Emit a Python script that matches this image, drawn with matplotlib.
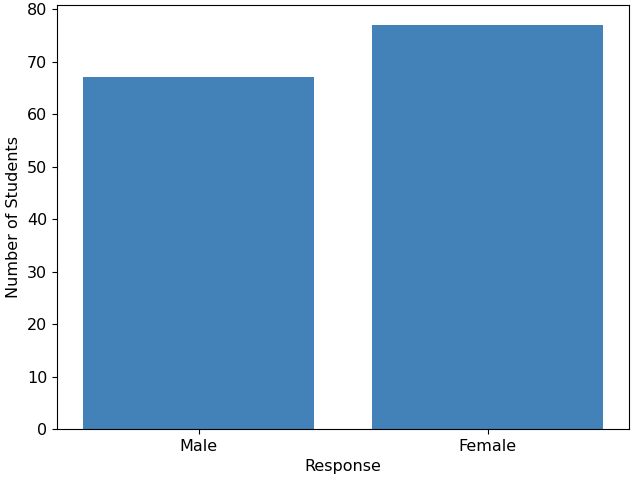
import matplotlib
matplotlib.use("Agg")
import matplotlib.pyplot as plt

categories = ["Male", "Female"]
counts = [67, 77]

plt.rcParams['font.size'] = 11.5
fig, ax = plt.subplots(figsize=(6.33, 4.82), dpi=100)
ax.bar(categories, counts, color="#4382b9")
ax.set_xlabel("Response")
ax.set_ylabel("Number of Students")
fig.subplots_adjust(left=0.09, right=0.994, top=0.99, bottom=0.11)
plt.savefig("out.png")
